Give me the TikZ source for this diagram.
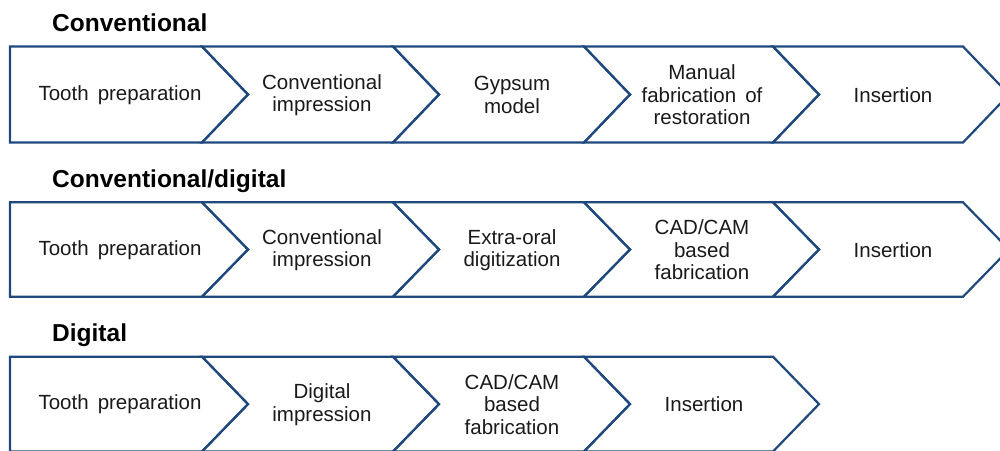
\documentclass[tikz,border=0pt]{standalone}
\usepackage{fontspec}
\setmainfont{Liberation Sans}[WordSpace=1.6]
\definecolor{chevblue}{HTML}{1F497D}
\definecolor{txt}{HTML}{1A1A1A}
\newcommand\mychev[4]{%
  \draw[chevline] (#1,#3) -- (#2,#3) -- ({#2+46},{(#3+#4)/2}) -- (#2,#4) -- (#1,#4) -- ({#1+46},{(#3+#4)/2}) -- cycle;}
\newcommand\myfirstchev[4]{%
  \draw[chevline] (#1,#3) -- (#2,#3) -- ({#2+46},{(#3+#4)/2}) -- (#2,#4) -- (#1,#4) -- cycle;}
\begin{document}
\begin{tikzpicture}[x=1pt,y=-1pt,
  chevline/.style={draw=chevblue,line width=2.2pt,line join=miter},
  lbl/.style={align=center,text=txt,font=\fontsize{20.5}{22.5}\selectfont,inner sep=0pt},
  ttl/.style={anchor=base west,text=black,font=\fontsize{24.5}{27}\selectfont\bfseries,inner sep=0pt}]
\useasboundingbox (0,0) rectangle (1000,450);
\clip (0,0) rectangle (1000,450);
\fill[white] (0,0) rectangle (1000,450);
% Row 1
\node[ttl] (t1) at (52,31.5) {Conventional};
\myfirstchev{10}{202}{46.5}{142.5}
\mychev{202}{393}{46.5}{142.5}
\mychev{393}{584}{46.5}{142.5}
\mychev{584}{773}{46.5}{142.5}
\mychev{773}{963}{46.5}{142.5}
\node[lbl] (a1) at (120,95) {Tooth preparation};
\node[lbl] (a2) at (322,95) {Conventional\\impression};
\node[lbl] (a3) at (512,95) {Gypsum\\model};
\node[lbl] (a4) at (702,95) {Manual\\fabrication of\\restoration};
\node[lbl] (a5) at (893,95) {Insertion};
% Row 2
\node[ttl] (t2) at (52,187) {Conventional/digital};
\myfirstchev{10}{202}{202.3}{296.7}
\mychev{202}{393}{202.3}{296.7}
\mychev{393}{584}{202.3}{296.7}
\mychev{584}{773}{202.3}{296.7}
\mychev{773}{963}{202.3}{296.7}
\node[lbl] (b1) at (120,250) {Tooth preparation};
\node[lbl] (b2) at (322,250) {Conventional\\impression};
\node[lbl] (b3) at (512,250) {Extra-oral\\digitization};
\node[lbl] (b4) at (702,250) {CAD/CAM\\based\\fabrication};
\node[lbl] (b5) at (893,250) {Insertion};
% Row 3
\node[ttl] (t3) at (52,341.5) {Digital};
\myfirstchev{10}{202}{356.7}{451.5}
\mychev{202}{393}{356.7}{451.5}
\mychev{393}{584}{356.7}{451.5}
\mychev{584}{773}{356.7}{451.5}
\node[lbl] (c1) at (120,404.5) {Tooth preparation};
\node[lbl] (c2) at (322,404.5) {Digital\\impression};
\node[lbl] (c3) at (512,404.5) {CAD/CAM\\based\\fabrication};
\node[lbl] (c4) at (704,404.5) {Insertion};
\end{tikzpicture}
\end{document}
